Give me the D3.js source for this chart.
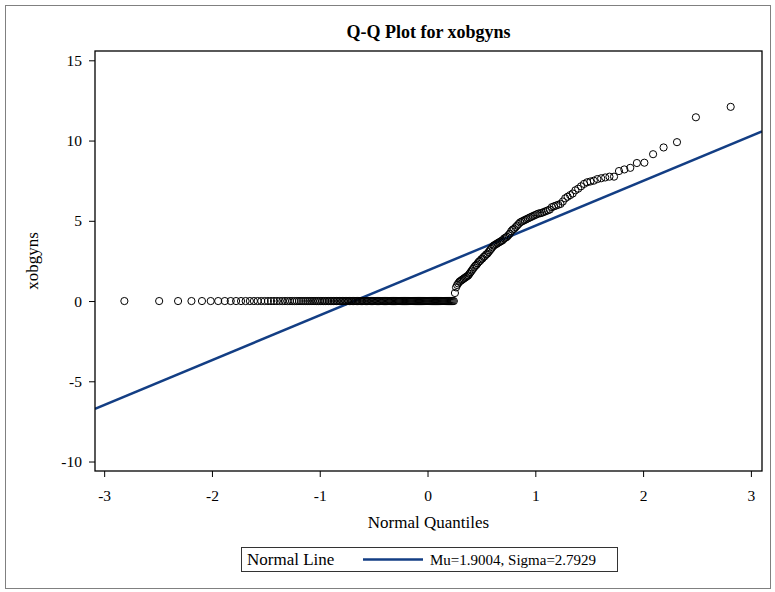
<!DOCTYPE html>
<html>
<head>
<meta charset="utf-8">
<script src="https://cdn.jsdelivr.net/npm/d3@7"></script>
<style>
  body { margin: 0; background: #fff; }
  svg text { font-family: "Liberation Serif", "Times New Roman", serif; fill: #000; }
</style>
</head>
<body>
<svg id="chart" width="775" height="592"></svg>
<script>
// observations of xobgyns: 152 zeros followed by the positive values (sorted)
const zeroCount = 152;
const positiveValues = [
  0.5, 0.85, 1.0, 1.1, 1.2, 1.25, 1.3, 1.35, 1.4, 1.45, 1.5, 1.55, 1.6, 1.7, 1.8, 1.9,
  2.0, 2.1, 2.2, 2.25, 2.35, 2.45, 2.5, 2.6, 2.65, 2.75, 2.8, 2.9, 2.95, 3.05, 3.15,
  3.25, 3.35, 3.45, 3.5, 3.55, 3.6, 3.65, 3.7, 3.75, 3.8, 3.9, 3.95, 4.0, 4.1, 4.2,
  4.35, 4.45, 4.5, 4.6, 4.7, 4.8, 4.9, 4.95, 5.0, 5.05, 5.1, 5.15, 5.2, 5.25, 5.3,
  5.35, 5.4, 5.45, 5.47, 5.5, 5.55, 5.6, 5.65, 5.7, 5.85, 5.9, 5.95, 6.0, 6.05, 6.2,
  6.4, 6.5, 6.6, 6.7, 6.9, 7.0, 7.15, 7.3, 7.4, 7.45, 7.5, 7.6, 7.65, 7.7, 7.75,
  7.75, 8.1, 8.2, 8.3, 8.6, 8.62, 9.15, 9.57, 9.9, 11.45, 12.1
];
const mu = 1.9004;
const sigma = 2.7929;

const xTicks = [-3, -2, -1, 0, 1, 2, 3];
const yTicks = [-10, -5, 0, 5, 10, 15];

// inverse standard normal cdf (Acklam)
function qnorm(p) {
  const a = [-39.69683028665376, 220.9460984245205, -275.9285104469687, 138.357751867269, -30.66479806614716, 2.506628277459239];
  const b = [-54.47609879822406, 161.5858368580409, -155.6989798598866, 66.80131188771972, -13.28068155288572];
  const c = [-0.007784894002430293, -0.3223964580411365, -2.400758277161838, -2.549732539343734, 4.374664141464968, 2.938163982698783];
  const d = [0.007784695709041462, 0.3224671290700398, 2.445134137142996, 3.754408661907416];
  const pl = 0.02425;
  let q, r;
  if (p < pl) {
    q = Math.sqrt(-2 * Math.log(p));
    return (((((c[0]*q+c[1])*q+c[2])*q+c[3])*q+c[4])*q+c[5]) / ((((d[0]*q+d[1])*q+d[2])*q+d[3])*q+1);
  } else if (p <= 1 - pl) {
    q = p - 0.5; r = q * q;
    return (((((a[0]*r+a[1])*r+a[2])*r+a[3])*r+a[4])*r+a[5])*q / (((((b[0]*r+b[1])*r+b[2])*r+b[3])*r+b[4])*r+1);
  } else {
    q = Math.sqrt(-2 * Math.log(1 - p));
    return -(((((c[0]*q+c[1])*q+c[2])*q+c[3])*q+c[4])*q+c[5]) / ((((d[0]*q+d[1])*q+d[2])*q+d[3])*q+1);
  }
}

const values = d3.range(zeroCount).map(() => 0).concat(positiveValues);
const n = values.length;
const points = values.map((v, i) => ({ q: qnorm((i + 1 - 0.375) / (n + 0.25)), v: v }));

const svg = d3.select("#chart");
const margin = { top: 51, right: 13, bottom: 121, left: 95 };
const width = 775 - margin.left - margin.right;
const height = 592 - margin.top - margin.bottom;

// outer frame
svg.append("rect")
  .attr("x", 5.5).attr("y", 5.5)
  .attr("width", 765).attr("height", 583)
  .attr("fill", "none").attr("stroke", "#808080").attr("stroke-width", 1);

const x = d3.scaleLinear().domain([-3.085, 3.103]).range([0, width]);
const y = d3.scaleLinear().domain([-10.59, 15.58]).range([height, 0]);

const g = svg.append("g")
  .attr("transform", "translate(" + margin.left + "," + margin.top + ")");

g.append("defs").append("clipPath").attr("id", "clip")
  .append("rect").attr("width", width).attr("height", height);

// normal line
const lineG = g.append("g").attr("clip-path", "url(#clip)");
lineG.append("line")
  .attr("x1", x(x.domain()[0])).attr("y1", y(mu + sigma * x.domain()[0]))
  .attr("x2", x(x.domain()[1])).attr("y2", y(mu + sigma * x.domain()[1]))
  .attr("stroke", "#133e84").attr("stroke-width", 2.5);

// points
g.append("g")
  .selectAll("circle")
  .data(points)
  .enter()
  .append("circle")
  .attr("cx", d => x(d.q))
  .attr("cy", d => y(d.v))
  .attr("r", 3.6)
  .attr("fill", "none")
  .attr("stroke", "#000")
  .attr("stroke-width", 1);

// axes (plain hyphen for negatives, like the original)
const fmt = d => String(d);
const xAxis = g.append("g")
  .attr("transform", "translate(0," + height + ")")
  .call(d3.axisBottom(x).tickValues(xTicks).tickSize(6).tickPadding(13).tickFormat(fmt));
const yAxis = g.append("g")
  .call(d3.axisLeft(y).tickValues(yTicks).tickSize(6).tickPadding(7).tickFormat(fmt));
[xAxis, yAxis].forEach(a => {
  a.select(".domain").remove();
  a.selectAll("line").attr("stroke", "#000");
  a.selectAll("text").style("font-size", "15.5px").style("font-family", "Liberation Serif");
});

// plot frame
g.append("rect")
  .attr("width", width).attr("height", height)
  .attr("fill", "none").attr("stroke", "#000").attr("stroke-width", 1.3);

// title and labels
svg.append("text")
  .attr("x", margin.left + width / 2).attr("y", 38)
  .attr("text-anchor", "middle")
  .style("font-size", "18px").style("font-weight", "bold")
  .text("Q-Q Plot for xobgyns");

svg.append("text")
  .attr("x", margin.left + width / 2).attr("y", 528)
  .attr("text-anchor", "middle")
  .style("font-size", "17px")
  .text("Normal Quantiles");

svg.append("text")
  .attr("transform", "translate(38," + (margin.top + height / 2) + ") rotate(-90)")
  .attr("text-anchor", "middle")
  .style("font-size", "17px")
  .text("xobgyns");

// legend
const legend = svg.append("g").attr("transform", "translate(241,547)");
legend.append("rect")
  .attr("x", 0.5).attr("y", 0.5).attr("width", 376).attr("height", 24)
  .attr("fill", "none").attr("stroke", "#333").attr("stroke-width", 1);
legend.append("text").attr("x", 6).attr("y", 18).style("font-size", "17px").text("Normal Line");
legend.append("line")
  .attr("x1", 122).attr("x2", 182).attr("y1", 12.5).attr("y2", 12.5)
  .attr("stroke", "#133e84").attr("stroke-width", 2.5);
legend.append("text").attr("x", 189).attr("y", 18).style("font-size", "15px")
  .text("Mu=" + mu.toFixed(4) + ", Sigma=" + sigma.toFixed(4));
</script>
</body>
</html>
